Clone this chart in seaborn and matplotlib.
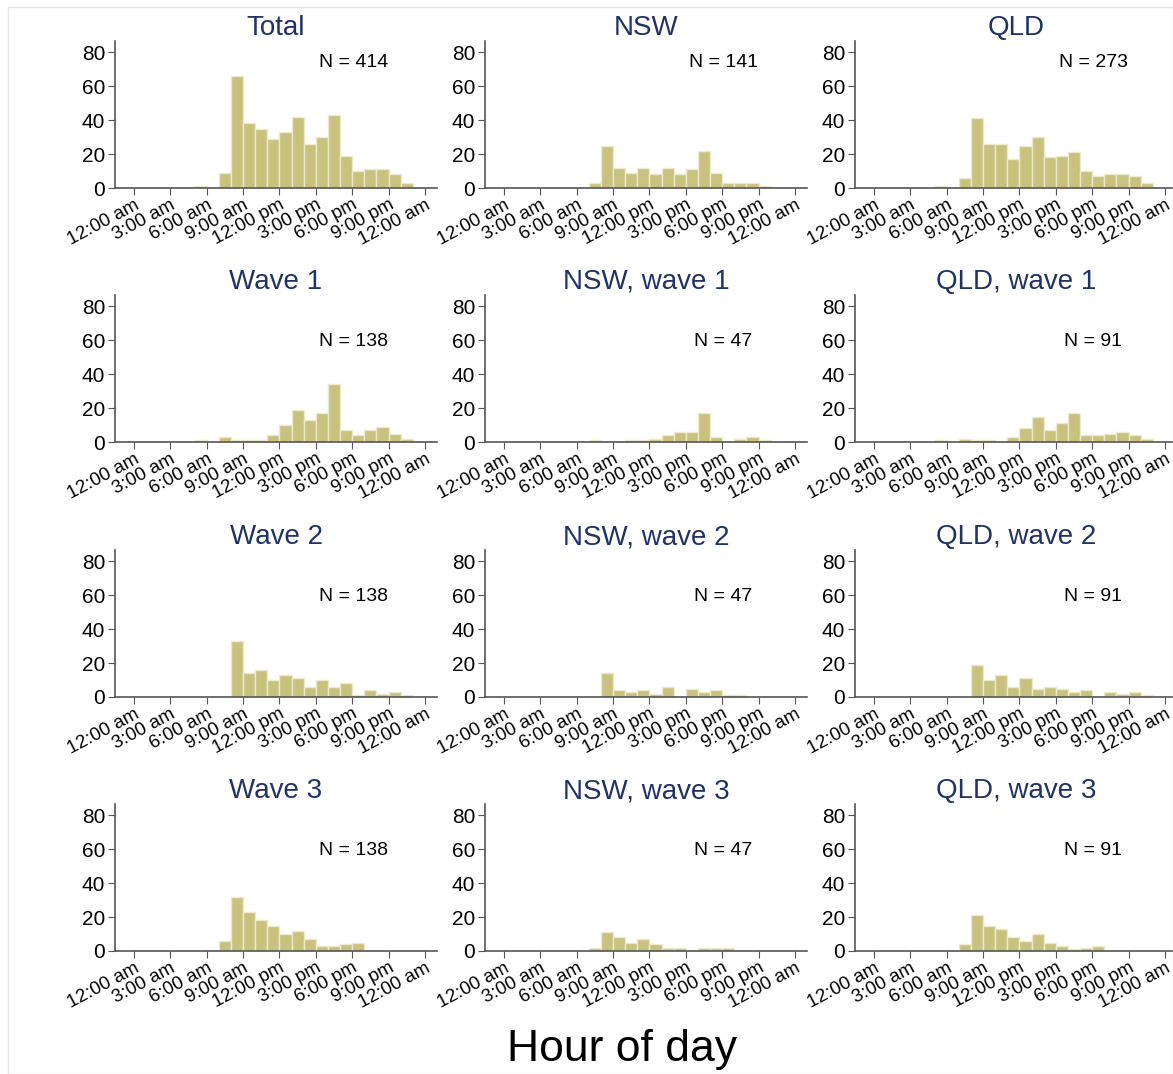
import matplotlib
matplotlib.use("Agg")
import matplotlib.pyplot as plt
import seaborn as sns
from matplotlib.patches import Rectangle

# --- data: counts per hour of day (bin 0 = 12:00-1:00 am) ---
hours = list(range(24))

total  = [0,0,0,0,0,1,0,9,66,38,35,29,33,42,26,30,43,19,10,11,11,8,3,0]
nsw    = [0,0,0,0,0,0,0,3,25,12,9,12,8,12,8,11,22,9,3,3,3,1,0,0]
qld    = [0,0,0,0,0,1,0,6,41,26,26,17,25,30,18,19,21,10,7,8,8,7,3,0]
wave1  = [0,0,0,0,0,1,0,3,1,1,1,4,10,19,13,17,34,7,4,7,9,5,2,0]
nsw_w1 = [0,0,0,0,0,0,0,1,0,0,1,1,2,4,6,6,17,3,0,2,3,1,0,0]
qld_w1 = [0,0,0,0,0,1,0,2,1,1,0,3,8,15,7,11,17,4,4,5,6,4,2,0]
wave2  = [0,0,0,0,0,0,0,0,33,14,16,10,13,11,6,10,6,8,1,4,2,3,1,0]
nsw_w2 = [0,0,0,0,0,0,0,0,14,4,3,4,2,6,0,5,3,4,1,1,0,0,0,0]
qld_w2 = [0,0,0,0,0,0,0,0,19,10,13,6,11,5,6,5,3,4,0,3,2,3,1,0]
wave3  = [0,0,0,0,0,0,0,6,32,23,18,15,10,12,7,3,3,4,5,0,0,0,0,0]
nsw_w3 = [0,0,0,0,0,0,0,2,11,8,5,7,4,2,2,0,2,2,2,0,0,0,0,0]
qld_w3 = [0,0,0,0,0,0,0,4,21,15,13,8,6,10,5,3,1,2,3,0,0,0,0,0]

panels = [total, nsw, qld, wave1, nsw_w1, qld_w1,
          wave2, nsw_w2, qld_w2, wave3, nsw_w3, qld_w3]
titles = ["Total", "NSW", "QLD", "Wave 1", "NSW, wave 1", "QLD, wave 1",
          "Wave 2", "NSW, wave 2", "QLD, wave 2", "Wave 3", "NSW, wave 3", "QLD, wave 3"]
n_labels = [414, 141, 273, 138, 47, 91, 138, 47, 91, 138, 47, 91]

xticks = [0, 3, 6, 9, 12, 15, 18, 21, 24]
xtick_labels = ["12:00 am", "3:00 am", "6:00 am", "9:00 am", "12:00 pm",
                "3:00 pm", "6:00 pm", "9:00 pm", "12:00 am"]
yticks = [0, 20, 40, 60, 80]

# --- style ---
sns.set_style("ticks")
plt.rcParams['font.family'] = ['Liberation Sans', 'DejaVu Sans']
plt.rcParams['text.color'] = 'black'
plt.rcParams['xtick.color'] = 'black'
plt.rcParams['ytick.color'] = 'black'

BAR = "#c9c27f"
EDGE = "#ece9cc"
TITLE = "#1f3366"
AXC = "#555555"

W, H = 1173, 1074
fig = plt.figure(figsize=(W / 100, H / 100), dpi=100)

col_left = [115, 485, 855]
row_base = [188, 442, 697, 951]
ax_w, ax_h = 322, 147

for i, counts in enumerate(panels):
    r, c = divmod(i, 3)
    left = col_left[c] / W
    bottom = 1 - row_base[r] / H
    ax = fig.add_axes([left, bottom, ax_w / W, ax_h / H])

    sns.histplot(x=hours, weights=counts, bins=range(25), ax=ax,
                 color=BAR, edgecolor=EDGE, linewidth=1.0, alpha=1.0)

    ax.set_xlim(-1.57, 25.0)
    ax.set_ylim(0, 86.5)
    ax.set_xticks(xticks)
    ax.set_xticklabels(xtick_labels, rotation=28, ha="right",
                       rotation_mode="anchor", fontsize=13.5)
    ax.set_yticks(yticks)
    ax.tick_params(axis="y", labelsize=15, length=5, color=AXC, pad=2)
    ax.tick_params(axis="x", length=5, color=AXC, pad=1)
    ax.set_xlabel("")
    ax.set_ylabel("")
    for s in ["top", "right"]:
        ax.spines[s].set_visible(False)
    for s in ["left", "bottom"]:
        ax.spines[s].set_color(AXC)
        ax.spines[s].set_linewidth(1.2)
    ax.set_title(titles[i], color=TITLE, fontsize=20, pad=3)

    ny = 74 if r == 0 else 59
    ax.text(18.1, ny, f"N = {n_labels[i]}", ha="center", va="center", fontsize=14)

fig.text(622 / W, 1 - 1050 / H, "Hour of day", ha="center", va="center", fontsize=32)

# thin outer frame
fig.patches.append(Rectangle((8 / W, 0), 1 - 8 / W, 1 - 7 / H, transform=fig.transFigure,
                             fill=False, edgecolor="#e4e4e4", linewidth=1.0))

fig.savefig("out.png", dpi=100)
